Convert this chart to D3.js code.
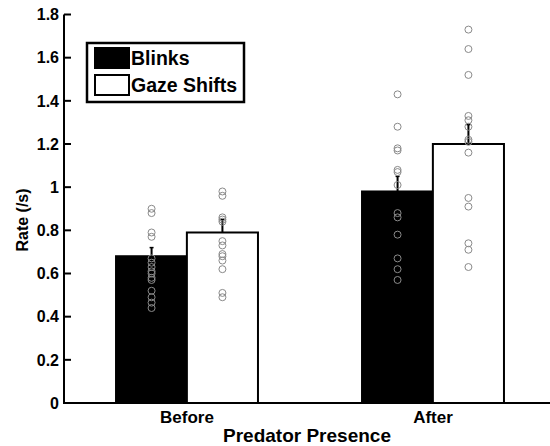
<!DOCTYPE html>
<html><head><meta charset="utf-8">
<script src="https://cdn.jsdelivr.net/npm/d3@7"></script>
<style>body{margin:0;background:#fff}svg{display:block}text{font-family:"Liberation Sans",Arial,Helvetica,sans-serif;font-weight:bold;fill:#000}</style>
</head><body><svg id="c" width="550" height="446"></svg>
<script>
const groups = ["Before", "After"];
const seriesNames = ["Blinks", "Gaze Shifts"];
const seriesFill = ["#000000", "#ffffff"];
const blinksMean = [0.68, 0.98];
const gazeMean = [0.79, 1.20];
const blinksErr = [0.04, 0.07];
const gazeErr = [0.06, 0.09];
const blinksBefore = [0.90, 0.88, 0.79, 0.77, 0.67, 0.65, 0.63, 0.61, 0.60, 0.58, 0.57, 0.52, 0.49, 0.465, 0.44];
const gazeBefore = [0.98, 0.96, 0.86, 0.85, 0.84, 0.75, 0.73, 0.69, 0.68, 0.66, 0.62, 0.51, 0.49];
const blinksAfter = [1.43, 1.28, 1.18, 1.17, 1.08, 1.07, 1.01, 0.88, 0.86, 0.78, 0.67, 0.62, 0.57];
const gazeAfter = [1.73, 1.64, 1.52, 1.33, 1.31, 1.28, 1.22, 1.21, 1.16, 0.95, 0.91, 0.74, 0.71, 0.63];
const yTicks = [0, 0.2, 0.4, 0.6, 0.8, 1, 1.2, 1.4, 1.6, 1.8];

const svg = d3.select("#c");
const x = d3.scaleLinear().domain([0.5, 2.5]).range([64, 556]);
const y = d3.scaleLinear().domain([0, 1.8]).range([403, 14.5]);
const off = 0.144, bw = 0.289;

const bars = [];
groups.forEach((g, i) => {
  bars.push({pos: i + 1 - off, v: blinksMean[i], e: blinksErr[i], fill: seriesFill[0], pts: i === 0 ? blinksBefore : blinksAfter});
  bars.push({pos: i + 1 + off, v: gazeMean[i], e: gazeErr[i], fill: seriesFill[1], pts: i === 0 ? gazeBefore : gazeAfter});
});

svg.selectAll("rect.bar").data(bars).enter().append("rect")
  .attr("x", d => x(d.pos - bw / 2)).attr("width", d => x(d.pos + bw / 2) - x(d.pos - bw / 2))
  .attr("y", d => y(d.v)).attr("height", d => y(0) - y(d.v))
  .attr("fill", d => d.fill).attr("stroke", "#000").attr("stroke-width", 2);

svg.selectAll("line.err").data(bars).enter().append("line")
  .attr("x1", d => x(d.pos)).attr("x2", d => x(d.pos))
  .attr("y1", d => y(d.v)).attr("y2", d => y(d.v + d.e))
  .attr("stroke", "#000").attr("stroke-width", 2);
svg.selectAll("line.cap").data(bars).enter().append("line")
  .attr("x1", d => x(d.pos) - 2).attr("x2", d => x(d.pos) + 2)
  .attr("y1", d => y(d.v + d.e)).attr("y2", d => y(d.v + d.e))
  .attr("stroke", "#000").attr("stroke-width", 1.5);

bars.forEach(b => {
  svg.append("g").selectAll("circle").data(b.pts).enter().append("circle")
    .attr("cx", x(b.pos)).attr("cy", d => y(d)).attr("r", 3.5)
    .attr("fill", "none").attr("stroke", "#8a8a8a").attr("stroke-width", 1);
});

// axes
svg.append("line").attr("x1", 64).attr("x2", 64).attr("y1", y(0)).attr("y2", y(1.8))
  .attr("stroke", "#000").attr("stroke-width", 2);
svg.append("line").attr("x1", 63).attr("x2", 550).attr("y1", y(0)).attr("y2", y(0))
  .attr("stroke", "#000").attr("stroke-width", 2);
const yt = svg.append("g");
yTicks.forEach(t => {
  yt.append("line").attr("x1", 64).attr("x2", 71).attr("y1", y(t)).attr("y2", y(t))
    .attr("stroke", "#000").attr("stroke-width", 2);
  yt.append("text").attr("x", 59).attr("y", y(t)).attr("dy", "0.36em")
    .attr("text-anchor", "end").attr("font-size", 16).text(t === 0 || t === 1 ? String(t) : t.toFixed(1));
});
groups.forEach((g, i) => {
  svg.append("text").attr("x", x(i + 1)).attr("y", 423).attr("text-anchor", "middle")
    .attr("font-size", 17).text(g);
});
svg.append("text").attr("x", 307).attr("y", 442).attr("text-anchor", "middle")
  .attr("font-size", 19).text("Predator Presence");
svg.append("text").attr("transform", "translate(28,220) rotate(-90)").attr("text-anchor", "middle")
  .attr("font-size", 16).text("Rate (/s)");

// legend
const lg = svg.append("g");
lg.append("rect").attr("x", 87).attr("y", 43).attr("width", 157).attr("height", 59)
  .attr("fill", "#fff").attr("stroke", "#000").attr("stroke-width", 2.5);
seriesNames.forEach((n, i) => {
  const yy = 48 + i * 27;
  lg.append("rect").attr("x", 95).attr("y", yy).attr("width", 34).attr("height", 20)
    .attr("fill", seriesFill[i]).attr("stroke", "#000").attr("stroke-width", 2);
  lg.append("text").attr("x", 131).attr("y", yy + 17).attr("font-size", 19.5).text(n);
});
</script></body></html>
